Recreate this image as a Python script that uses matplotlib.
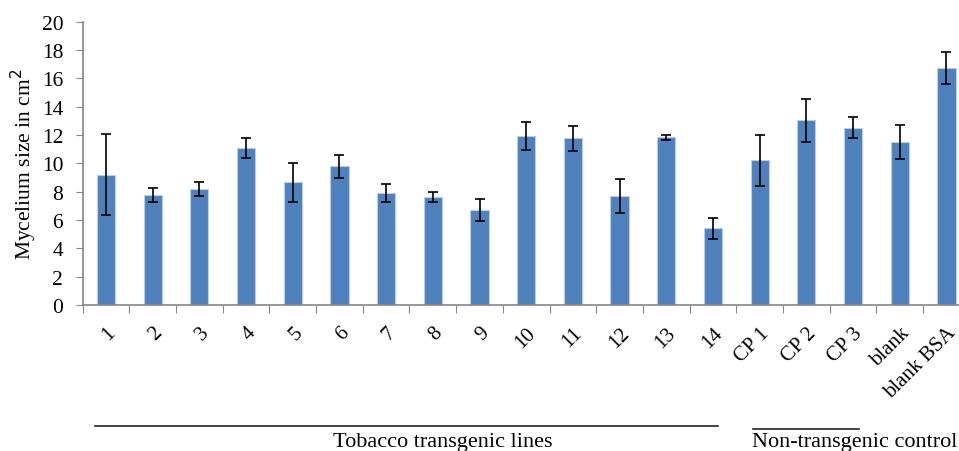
import matplotlib.pyplot as plt
import numpy as np

plt.rcParams['font.family'] = ['Liberation Serif', 'DejaVu Serif']

labels = ['1', '2', '3', '4', '5', '6', '7', '8', '9', '10', '11', '12', '13', '14',
          'CP 1', 'CP 2', 'CP 3', 'blank', 'blank BSA']
mycelium = [9.2, 7.76, 8.16, 11.1, 8.66, 9.79, 7.93, 7.6, 6.73, 11.93, 11.76, 7.71,
            11.83, 5.41, 10.21, 13.03, 12.51, 11.48, 16.73]
err = [2.85, 0.47, 0.5, 0.72, 1.38, 0.82, 0.64, 0.34, 0.78, 0.99, 0.87, 1.19,
       0.18, 0.74, 1.82, 1.51, 0.74, 1.19, 1.12]

fig = plt.figure(figsize=(9.59, 4.52), dpi=100)
ax = fig.add_axes([0.0862, 0.323, 0.925, 0.627])

x = np.arange(len(labels))
ax.bar(x, mycelium, width=0.39, color='#4F81BD', edgecolor='#B9CDE5', linewidth=0.8,
       yerr=err, capsize=3.6, error_kw=dict(ecolor='black', elinewidth=1.2, capthick=1.2),
       zorder=2)

ax.set_xlim(-0.5, len(labels) - 0.5)
ax.set_ylim(0, 20)
ax.set_yticks(range(0, 21, 2))
ax.tick_params(axis='y', labelsize=15.5, length=5, color='#868686', direction='out', pad=9)

# category boundaries as tick marks, labels at the bar centres
ax.set_xticks(np.arange(-0.5, len(labels), 1.0))
ax.set_xticklabels([])
ax.tick_params(axis='x', which='major', length=6, color='#868686', direction='out')
ax.set_xticks(x, minor=True)
ax.set_xticklabels(labels, minor=True, rotation=45, ha='right', va='top',
                   rotation_mode='anchor', fontsize=15)
ax.tick_params(axis='x', which='minor', length=0, pad=13)

for side in ['top', 'right']:
    ax.spines[side].set_visible(False)
for side in ['left', 'bottom']:
    ax.spines[side].set_color('#868686')
    ax.spines[side].set_linewidth(1.2)

ax.set_ylabel('Mycelium size in cm$^2$', fontsize=15.5, labelpad=2)

# group brackets under the axis
fig.add_artist(plt.Line2D([95 / 959, 718 / 959], [1 - 427 / 452] * 2, color='#222222', lw=1.2))
fig.add_artist(plt.Line2D([753 / 959, 859 / 959], [1 - 430 / 452] * 2, color='#222222', lw=1.2))
fig.text(443 / 959, 1 - 443 / 452, 'Tobacco transgenic lines', ha='center', va='center', fontsize=16)
fig.text(855 / 959, 1 - 443 / 452, 'Non-transgenic control', ha='center', va='center', fontsize=16)

fig.savefig('out.png', dpi=100)
